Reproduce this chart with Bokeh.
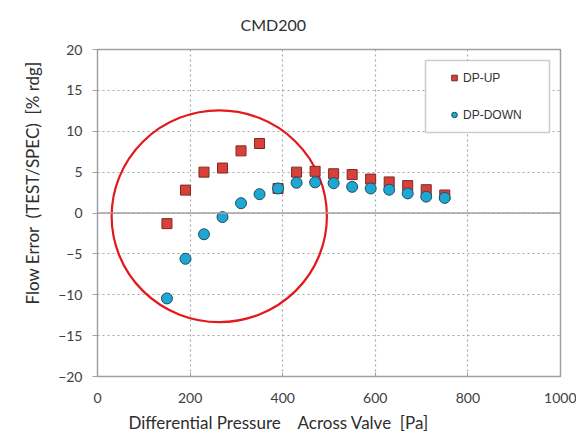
from bokeh.plotting import figure
from bokeh.models import (Range1d, FixedTicker, Legend, LegendItem, BoxAnnotation,
                          Title, Span)
from bokeh.embed import file_html
from bokeh.resources import INLINE

# ---- data ----
dp_pa = [150, 190, 230, 270, 310, 350, 390, 430, 470, 510, 550, 590, 630, 670, 710, 750]
dp_up = [-1.3, 2.8, 5.0, 5.5, 7.6, 8.5, 3.0, 5.0, 5.1, 4.8, 4.7, 4.15, 3.8, 3.35, 2.85, 2.2]
dp_down = [-10.45, -5.6, -2.6, -0.5, 1.2, 2.3, 3.0, 3.7, 3.75, 3.65, 3.2, 3.0, 2.85, 2.4, 2.0, 1.85]
x_ticks = [0, 200, 400, 600, 800, 1000]
y_ticks = [-20, -15, -10, -5, 0, 5, 10, 15, 20]
# highlight ellipse (annotation) in data units
ell_x, ell_y, ell_w, ell_h = 263, -0.4, 465, 25.9

NB = "\u00a0"
title_text = "CMD200"
x_label = "Differential Pressure" + NB * 4 + "Across Valve" + NB * 2 + "[Pa]"
y_label = "Flow Error" + NB * 2 + "(TEST/SPEC)" + NB * 2 + "[% rdg]"

FONT = "Lato"
TXT = "#404040"
LBL = "#2e2e2e"

p = figure(width=576, height=436, output_backend="svg", toolbar_location=None,
           x_range=Range1d(0, 1000), y_range=Range1d(-20, 20),
           min_border_left=97, min_border_right=16, min_border_top=48, min_border_bottom=60,
           background_fill_color="white", border_fill_color="white")

p.outline_line_color = "#a0a0a0"
p.outline_line_width = 1.5

# grid
for g in (p.xgrid, p.ygrid):
    g.grid_line_color = "#a8a8a8"
    g.grid_line_dash = "2 3"
    g.grid_line_width = 1.2
p.xaxis.ticker = FixedTicker(ticks=x_ticks)
p.yaxis.ticker = FixedTicker(ticks=y_ticks)

p.add_layout(Span(location=0, dimension="width", line_color="#a0a0a0", line_width=1.5))

for ax in (p.xaxis[0], p.yaxis[0]):
    ax.axis_line_color = None
    ax.major_tick_line_color = "#a0a0a0"
    ax.minor_tick_line_color = None
    ax.major_label_text_font = FONT
    ax.major_label_text_font_size = "14px"
    ax.major_label_text_color = TXT
p.xaxis.major_tick_in = 4
p.xaxis.major_tick_out = 0
p.xaxis.major_label_standoff = 16
p.yaxis.major_tick_in = 0
p.yaxis.major_tick_out = 5
p.yaxis.major_label_standoff = 10

# titles
p.title = Title(text=title_text, align="left", offset=143, text_font=FONT,
                text_font_size="16px", text_font_style="normal", text_color=LBL,
                standoff=28, vertical_align="top")
p.add_layout(Title(text=x_label, align="left", offset=31,
                   text_font=FONT, text_font_size="17px", text_font_style="normal",
                   text_color=LBL, standoff=8), "below")
p.add_layout(Title(text=y_label, align="left", offset=72,
                   text_font=FONT, text_font_size="17px", text_font_style="normal",
                   text_color=LBL, standoff=26), "left")

# highlight ellipse
p.ellipse(x=[ell_x], y=[ell_y], width=ell_w, height=ell_h, fill_color=None,
          line_color="#e3191c", line_width=2.2)

# series
r_up = p.scatter(dp_pa, dp_up, marker="square", size=10, fill_color="#d9403a",
                 line_color="#7a2a26", line_width=1)
r_down = p.scatter(dp_pa, dp_down, marker="circle", size=11, fill_color="#1fa7d3",
                   line_color="#1d4d66", line_width=1)

# legend box + legend
p.add_layout(BoxAnnotation(left=328, right=452, bottom=244, top=316,
                           left_units="screen", right_units="screen",
                           top_units="screen", bottom_units="screen",
                           fill_color="white", fill_alpha=1.0,
                           line_color="#595959", line_width=1.5))
legend = Legend(items=[LegendItem(label="DP-UP", renderers=[r_up]),
                       LegendItem(label="DP-DOWN", renderers=[r_down])],
                location=(342, 244), padding=8, spacing=18, glyph_width=14,
                glyph_height=19, label_height=19, label_standoff=2,
                label_text_font="Liberation Sans", label_text_font_size="12px",
                label_text_color="#333333", border_line_alpha=0,
                background_fill_alpha=0)
p.add_layout(legend)

open("out.html", "w").write(file_html(p, INLINE))
